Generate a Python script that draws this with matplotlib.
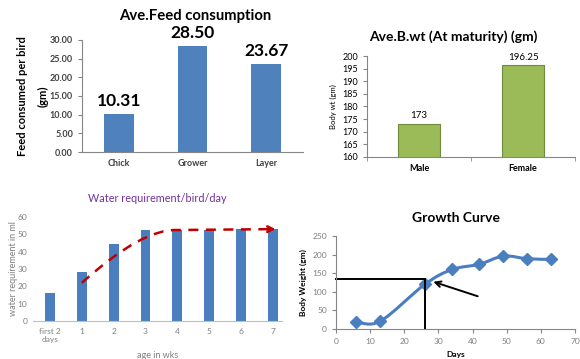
import matplotlib
matplotlib.use("Agg")
import matplotlib.pyplot as plt
import numpy as np
from matplotlib.path import Path
from matplotlib.patches import PathPatch

# Feed consumption per bird
feed_stages = ["Chick", "Grower", "Layer"]
feed_values = [10.31, 28.50, 23.67]
feed_ticks = [0, 5, 10, 15, 20, 25, 30]

# Body weight at maturity
sex_labels = ["Male", "Female"]
body_wt = [173, 196.25]
body_wt_text = ["173", "196.25"]

# Water requirement per bird per day
water_ages = ["first 2\ndays", "1", "2", "3", "4", "5", "6", "7"]
water_ml = [16, 28.5, 44.5, 52.5, 52.5, 52.5, 53, 53]

# Growth curve
growth_days = [6, 13, 26, 34, 42, 49, 56, 63]
growth_wt = [19, 21, 120, 160, 174, 196, 189, 187]

plt.rcParams["font.family"] = ["Lato", "DejaVu Sans"]

fig = plt.figure(figsize=(5.8, 3.59), dpi=100)
fig.patch.set_facecolor("white")

DARK = "#404040"
GRAY = "#7f7f7f"


def excel_axes(ax, tick_color):
    for s in ("top", "right"):
        ax.spines[s].set_visible(False)
    ax.spines["left"].set_color("#868686")
    ax.spines["bottom"].set_color("#868686")
    ax.spines["left"].set_linewidth(0.8)
    ax.spines["bottom"].set_linewidth(0.8)
    ax.tick_params(colors="#868686", labelcolor=tick_color, length=3, width=0.8)


# ---- Average feed consumption ----
ax1 = fig.add_axes([0.1414, 0.5766, 0.381, 0.312])
x1 = np.arange(len(feed_stages))
ax1.bar(x1, feed_values, width=0.4, color="#4f81bd")
ax1.set_xlim(-0.5, 2.5)
ax1.set_ylim(0, 30)
excel_axes(ax1, DARK)
ax1.set_yticks(feed_ticks)
ax1.set_yticklabels([f"{t:.2f}" for t in feed_ticks], fontweight="bold", fontsize=6.5)
ax1.set_xticks(x1)
ax1.set_xticklabels(feed_stages, fontweight="bold", fontsize=6.5)
ax1.tick_params(axis="x", length=0, pad=5)
for xi, v in zip(x1, feed_values):
    ax1.text(xi, v + 1.2, f"{v:.2f}", ha="center", va="bottom",
             fontsize=12.5, fontweight="bold", color="black")
ax1.set_ylabel("Feed consumed per bird\n(gm)", fontsize=8, fontweight="bold",
               color="black", labelpad=1, linespacing=2.0)
fig.text(0.336, 0.955, "Ave.Feed consumption", ha="center", va="center",
         fontsize=10.7, fontweight="bold")

# ---- Average body weight at maturity ----
ax2 = fig.add_axes([0.6328, 0.5627, 0.3586, 0.2813])
x2 = np.arange(len(sex_labels))
ax2.bar(x2, body_wt, width=0.4, color="#9bbb59", edgecolor="#71893f", linewidth=0.8)
ax2.set_xlim(-0.5, 1.5)
ax2.set_ylim(160, 200)
excel_axes(ax2, "black")
ax2.set_yticks(np.arange(160, 201, 5))
ax2.set_xticks(x2)
ax2.set_xticklabels(sex_labels, fontweight="bold", fontsize=6.5)
ax2.set_xticks([-0.5, 0.5, 1.5], minor=True)
ax2.tick_params(axis="y", labelsize=6.5)
ax2.tick_params(axis="x", which="major", length=0, pad=5)
ax2.tick_params(axis="x", which="minor", length=3, color="#868686")
for xi, v, t in zip(x2, body_wt, body_wt_text):
    ax2.text(xi, v + 1.5, t, ha="center", va="bottom", fontsize=7, color="black")
ax2.set_ylabel("Body wt (gm)", fontsize=5.5, color="black", labelpad=4)
fig.text(0.781, 0.897, "Ave.B.wt (At maturity) (gm)", ha="center", va="center",
         fontsize=10, fontweight="bold")

# ---- Water requirement ----
ax3 = fig.add_axes([0.0569, 0.1058, 0.4293, 0.2897])
x3 = np.arange(len(water_ages))
ax3.bar(x3, water_ml, width=0.31, color="#4a7ebf")
ax3.set_xlim(-0.53, 7.28)
ax3.set_ylim(0, 60)
ax3.set_yticks(np.arange(0, 61, 10))
ax3.set_xticks(x3)
ax3.set_xticklabels(water_ages)
for s in ("top", "right", "left"):
    ax3.spines[s].set_visible(False)
ax3.spines["bottom"].set_color("#bfbfbf")
ax3.tick_params(colors=GRAY, labelsize=6, length=0)
ax3.tick_params(axis="y", pad=4)
ax3.tick_params(axis="x", pad=5)
ax3.set_xlabel("age in wks", fontsize=6.5, color=GRAY, labelpad=6)
ax3.set_ylabel("water requirement in ml", fontsize=6.5, color=GRAY, labelpad=0)
ax3.set_title("Water requirement/bird/day", fontsize=7.8, color="#7030a0", pad=11)

trend = Path([(1, 22), (2.9, 53.5), (4, 52.5), (6.9, 53)],
             [Path.MOVETO, Path.CURVE3, Path.CURVE3, Path.LINETO])
ax3.add_patch(PathPatch(trend, facecolor="none", edgecolor="#c00000",
                        linewidth=1.8, linestyle=(0, (4, 3))))
ax3.annotate("", xy=(7.08, 53), xytext=(6.8, 53),
             arrowprops=dict(arrowstyle="->", color="#c00000", lw=1.8,
                             mutation_scale=10, shrinkA=0, shrinkB=0))

# ---- Growth curve ----
ax4 = fig.add_axes([0.5793, 0.0836, 0.4121, 0.259])
pts = np.column_stack([growth_days, growth_wt]).astype(float)
verts = [tuple(pts[0])]
codes = [Path.MOVETO]
n = len(pts)
for i in range(n - 1):
    p_prev = pts[i - 1] if i > 0 else pts[i]
    p_next2 = pts[i + 2] if i + 2 < n else pts[i + 1]
    c1 = pts[i] + (pts[i + 1] - p_prev) / 6.0
    c2 = pts[i + 1] - (p_next2 - pts[i]) / 6.0
    verts += [tuple(c1), tuple(c2), tuple(pts[i + 1])]
    codes += [Path.CURVE4, Path.CURVE4, Path.CURVE4]
ax4.add_patch(PathPatch(Path(verts, codes), facecolor="none",
                        edgecolor="#4a7ebf", linewidth=2.2))
ax4.plot(growth_days, growth_wt, linestyle="none", marker="D", markersize=6.5,
         color="#4a7ebf")
ax4.set_xlim(0, 70)
ax4.set_ylim(0, 250)
ax4.set_xticks(np.arange(0, 71, 10))
ax4.set_yticks(np.arange(0, 251, 50))
excel_axes(ax4, GRAY)
ax4.tick_params(axis="both", labelsize=6)
ax4.set_xlabel("Days", fontsize=6, fontweight="bold", color="black", labelpad=4)
ax4.set_ylabel("Body Weight (gm)", fontsize=6, fontweight="bold", color="black",
               labelpad=4)
ax4.set_title("Growth Curve", fontsize=10, fontweight="bold", pad=10)

# marker lines at the point of inflection
ax4.plot([0, 26], [134, 134], color="black", lw=1.4, clip_on=False)
ax4.plot([26, 26], [0, 134], color="black", lw=1.4, clip_on=False)
ax4.annotate("", xy=(28.5, 127), xytext=(41.5, 88),
             arrowprops=dict(arrowstyle="->", color="black", lw=1.4,
                             mutation_scale=10, shrinkA=0, shrinkB=0))

fig.savefig("out.png", dpi=100, facecolor="white")
